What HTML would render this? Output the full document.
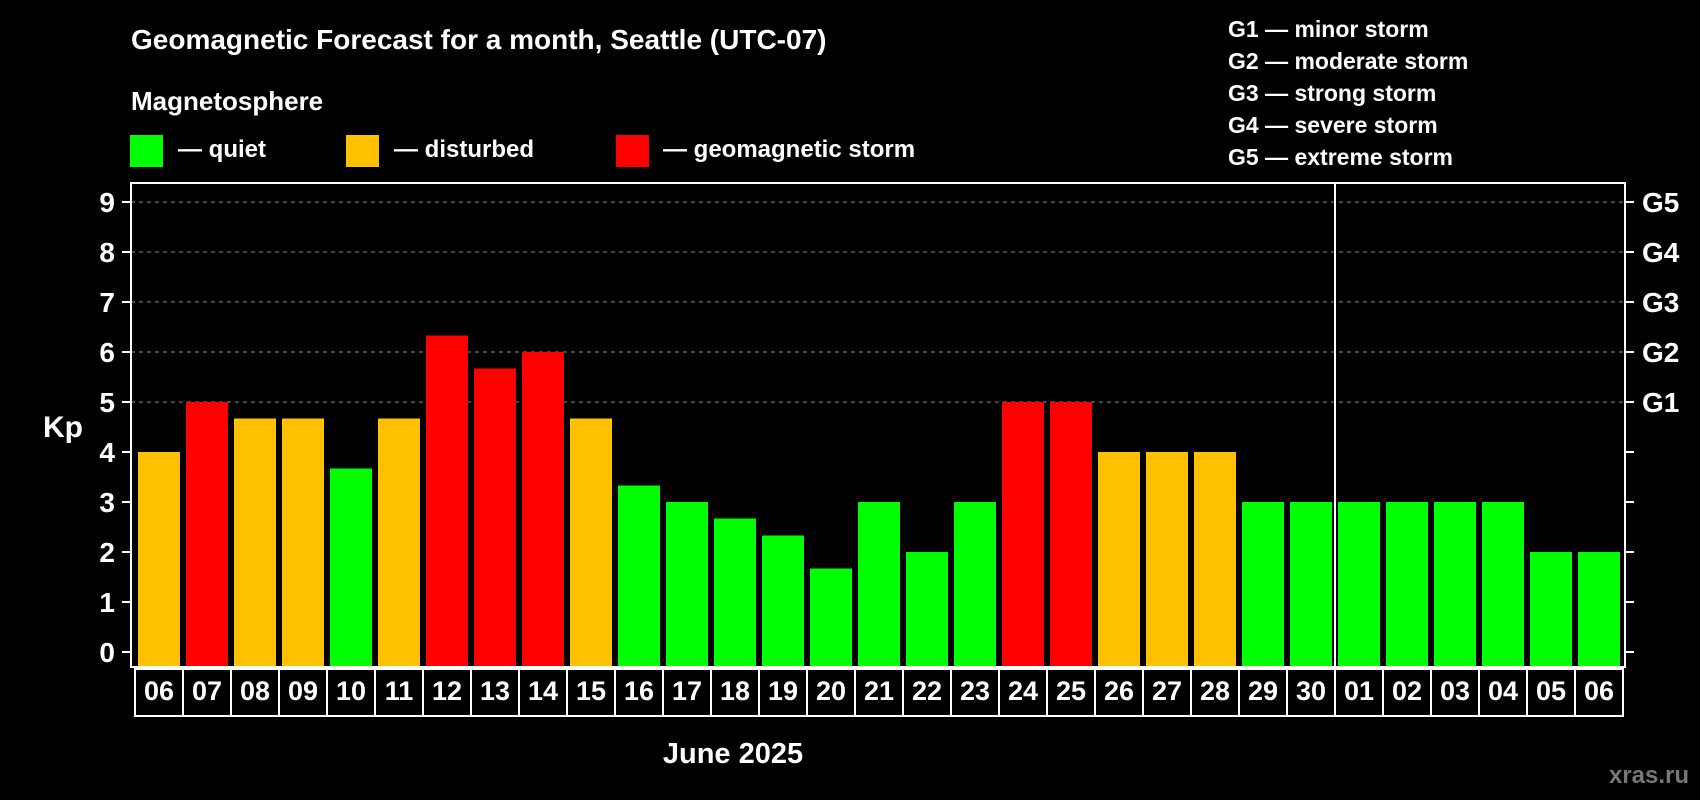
<!DOCTYPE html>
<html><head><meta charset="utf-8"><style>
html,body{margin:0;padding:0;background:#000;}
svg{display:block;font-family:"Liberation Sans",Arial,sans-serif;font-weight:bold;}
</style></head><body>
<svg id="chart" width="1700" height="800" viewBox="0 0 1700 800">
<rect x="0" y="0" width="1700" height="800" fill="#000"/>
<text x="131" y="49" font-size="28" fill="#fff">Geomagnetic Forecast for a month, Seattle (UTC-07)</text>
<text x="131" y="110" font-size="26" fill="#fff">Magnetosphere</text>
<g>
<rect x="130" y="135" width="33" height="32" fill="#00ff00"/>
<text x="178" y="157" font-size="24" fill="#fff">— quiet</text></g>
<g>
<rect x="346" y="135" width="33" height="32" fill="#ffc000"/>
<text x="394" y="157" font-size="24" fill="#fff">— disturbed</text></g>
<g>
<rect x="616" y="135" width="33" height="32" fill="#ff0000"/>
<text x="663" y="157" font-size="24" fill="#fff">— geomagnetic storm</text></g>
<g font-size="23" fill="#fff">
<text x="1228" y="37">G1 — minor storm</text>
<text x="1228" y="69">G2 — moderate storm</text>
<text x="1228" y="101">G3 — strong storm</text>
<text x="1228" y="133">G4 — severe storm</text>
<text x="1228" y="165">G5 — extreme storm</text>
</g>
<text x="43" y="437" font-size="30" fill="#fff">Kp</text>
<text x="733" y="763" font-size="29" fill="#fff" text-anchor="middle">June 2025</text>
<text x="1689" y="783" font-size="24" fill="#777" text-anchor="end">xras.ru</text>
<g id="grid"></g><g id="bars"></g><g id="axes"></g><g id="cells"></g>
</svg>
<script>
const days = ["06","07","08","09","10","11","12","13","14","15","16","17","18","19","20","21","22","23","24","25","26","27","28","29","30","01","02","03","04","05","06"];
const kpValues = [4,5,4.67,4.67,3.67,4.67,6.33,5.67,6,4.67,3.33,3,2.67,2.33,1.67,3,2,3,5,5,4,4,4,3,3,3,3,3,3,2,2];
const yTicks = [0,1,2,3,4,5,6,7,8,9];
const gLabels = ["G1","G2","G3","G4","G5"];
const gLevels = [5,6,7,8,9];
const monthBreakIndex = 25;

const NS="http://www.w3.org/2000/svg";
const plotL=131, plotR=1625, plotT=183, plotB=667, slot=48, barW=42, firstBar=138;
function y(v){return 652 - v*50;}
function xSlot(i){return firstBar + i*slot;}
function colorFor(v){return v>=5?"#ff0000":(v>=4?"#ffc000":"#00ff00");}
function mk(tag,attrs,parent){const e=document.createElementNS(NS,tag);for(const k in attrs)e.setAttribute(k,attrs[k]);parent.appendChild(e);return e;}

const grid=document.getElementById('grid'), bars=document.getElementById('bars'), axes=document.getElementById('axes'), cells=document.getElementById('cells');

gLevels.forEach((lv,i)=>{
  const l=mk('line',{x1:plotL,x2:plotR,y1:y(lv),y2:y(lv),stroke:"#888","stroke-width":1,"stroke-dasharray":"4,4"},grid);
  
  
});

kpValues.forEach((v,i)=>{
  const r=mk('rect',{x:xSlot(i),y:y(v),width:barW,height:plotB-1-y(v),fill:colorFor(v)},bars);
  
  
});

const frame=mk('rect',{x:plotL,y:plotT,width:plotR-plotL,height:plotB-plotT,fill:"none",stroke:"#fff","stroke-width":2},axes);


const brk=mk('line',{x1:xSlot(monthBreakIndex)-3,x2:xSlot(monthBreakIndex)-3,y1:plotT,y2:plotB,stroke:"#fff","stroke-width":2},axes);



yTicks.forEach(t=>{
  const tl=mk('line',{x1:122,x2:plotL,y1:y(t),y2:y(t),stroke:"#fff","stroke-width":2},axes);
  
  
  const tr=mk('line',{x1:plotR,x2:plotR+9,y1:y(t),y2:y(t),stroke:"#fff","stroke-width":2},axes);
  
  
  const tx=mk('text',{x:115,y:y(t)+10,"font-size":28,fill:"#fff","text-anchor":"end"},axes);
  tx.textContent=String(t);
  
  
});
gLabels.forEach((g,i)=>{
  const tx=mk('text',{x:1642,y:y(gLevels[i])+10,"font-size":28,fill:"#fff"},axes);
  tx.textContent=g;
  
  
});

days.forEach((d,i)=>{
  const cx=xSlot(i)-3;
  const c=mk('rect',{x:cx,y:669,width:slot,height:47,fill:"#000",stroke:"#fff","stroke-width":2},cells);
  
  
  const t=mk('text',{x:cx+slot/2,y:700,"font-size":27,fill:"#fff","text-anchor":"middle"},cells);
  t.textContent=d;
  
  
});
</script>
</body></html>
